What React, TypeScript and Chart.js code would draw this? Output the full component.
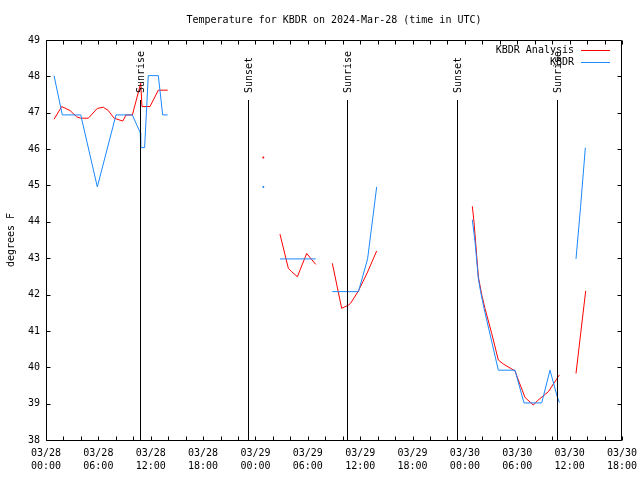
import React, { useEffect, useRef } from 'react';
import { Chart, registerables } from 'chart.js';

Chart.register(...registerables);

const TITLE = 'Temperature for KBDR on 2024-Mar-28 (time in UTC)';
const Y_TITLE = 'degrees F';
const FONT_FAMILY = '"DejaVu Sans Mono", "Liberation Mono", monospace';

// x tick labels (every 6 hours from 2024-03-28 00:00 UTC)
const tickDates = ['03/28', '03/28', '03/28', '03/28', '03/29', '03/29', '03/29', '03/29', '03/30', '03/30', '03/30', '03/30'];
const tickTimes = ['00:00', '06:00', '12:00', '18:00', '00:00', '06:00', '12:00', '18:00', '00:00', '06:00', '12:00', '18:00'];

const seriesNames = ['KBDR Analysis', 'KBDR'];
const seriesColors = ['#ff0000', '#1a88ff'];

// hours since 2024-03-28 00:00 UTC; null temperature = gap in data
const analysisHours = [
  0.92, 1.8, 2.75, 3.5, 3.97, 4.85, 5.88, 6.57, 7.14, 7.8, 8.8, 9.17, 9.9, 10.85, 11.0, 11.92, 12.87, 13.94,
  19,
  24.9,
  25.8,
  26.81, 27.77, 28.15, 28.8, 29.87, 30.9,
  31.8,
  32.81, 33.88, 34.65, 34.9, 35.8, 36.85, 37.89,
  43,
  48.85, 49.04, 49.54, 49.93, 50.3, 51.07, 51.83, 52.4, 53.74, 54.12, 54.89, 55.84, 56.3, 57.57, 58.44, 58.82,
  59.8,
  60.73, 61.3, 61.84,
];
const analysisTemps = [
  46.82, 47.17, 47.06, 46.89, 46.85, 46.85, 47.12, 47.15, 47.06, 46.85, 46.77, 46.94, 46.94, 47.81, 47.17, 47.17, 47.62, 47.62,
  null,
  45.77,
  null,
  43.66, 42.72, 42.63, 42.49, 43.13, 42.83,
  null,
  42.86, 41.62, 41.71, 41.76, 42.1, 42.62, 43.2,
  null,
  44.43, 44.0, 42.49, 41.99, 41.62, 40.93, 40.2, 40.09, 39.9, 39.65, 39.17, 38.96, 39.08, 39.33, 39.65, 39.79,
  null,
  39.83, 41.0, 42.1,
];

const obsHours = [
  0.92, 1.87, 3.98, 5.88, 8.02, 9.89, 10.8, 10.85, 11.3, 11.72, 12.87, 13.37, 13.94,
  19,
  24.9,
  25.8,
  26.81, 30.9,
  31.8,
  32.81, 35.8, 36.85, 37.89,
  43,
  48.85, 49.16, 49.54, 49.8, 50.19, 51.83, 53.74, 54.77, 56.8, 57.75, 58.58, 58.82,
  59.8,
  60.73, 61.25, 61.8,
];
const obsTemps = [
  48.02, 46.94, 46.94, 44.96, 46.94, 46.94, 46.45, 46.04, 46.04, 48.02, 48.02, 46.94, 46.94,
  null,
  44.96,
  null,
  42.98, 42.98,
  null,
  42.08, 42.08, 42.98, 44.96,
  null,
  44.06, 43.45, 42.44, 42.08, 41.62, 39.92, 39.92, 39.02, 39.02, 39.92, 39.19, 39.03,
  null,
  42.98, 44.4, 46.04,
];

const eventHours = [10.77, 23.2, 34.5, 47.1, 58.55];
const eventLabels = ['Sunrise', 'Sunset', 'Sunrise', 'Sunset', 'Sunrise'];

const X_MIN = 0;
const X_MAX = 66;
const Y_MIN = 38;
const Y_MAX = 49;
const MARKER_TOP = 47.35;

function toPoints(hours: number[], temps: (number | null)[]) {
  return hours.map((h, i) => ({ x: h, y: temps[i] }));
}

function isolatedRadius(temps: (number | null)[]) {
  return (ctx: any) => {
    const i = ctx.dataIndex;
    const prev = i > 0 ? temps[i - 1] : null;
    const next = i < temps.length - 1 ? temps[i + 1] : null;
    return temps[i] != null && prev == null && next == null ? 1 : 0;
  };
}

const overlayPlugin = {
  id: 'overlay',
  afterDatasetsDraw(chart: any) {
    const { ctx, chartArea: a, scales } = chart;
    const xs = scales.x;
    const ys = scales.y;
    ctx.save();
    ctx.strokeStyle = '#000';
    ctx.fillStyle = '#000';
    ctx.lineWidth = 1;
    ctx.font = `10px ${FONT_FAMILY}`;

    // sunrise / sunset markers
    const lineTop = ys.getPixelForValue(MARKER_TOP);
    eventHours.forEach((h, i) => {
      const px = Math.round(xs.getPixelForValue(h)) + 0.5;
      ctx.beginPath();
      ctx.moveTo(px, Math.round(lineTop));
      ctx.lineTo(px, a.bottom);
      ctx.stroke();
      ctx.save();
      ctx.translate(px + 0.5, Math.round(lineTop) - 7);
      ctx.rotate(-Math.PI / 2);
      ctx.textAlign = 'left';
      ctx.textBaseline = 'middle';
      ctx.fillText(eventLabels[i], 0, 0);
      ctx.restore();
    });

    // border
    const L = Math.round(a.left) + 0.5;
    const R = Math.round(a.right) - 0.5;
    const T = Math.round(a.top) + 0.5;
    const B = Math.round(a.bottom) + 0.5;
    ctx.beginPath();
    ctx.rect(L, T, R - L, B - T);
    ctx.stroke();

    // inward tick marks
    const TL = 4;
    ctx.beginPath();
    for (let h = X_MIN; h <= X_MAX; h += 2) {
      const px = Math.round(xs.getPixelForValue(h)) + 0.5;
      ctx.moveTo(px, B);
      ctx.lineTo(px, B - TL);
      ctx.moveTo(px, T);
      ctx.lineTo(px, T + TL);
    }
    for (let v = Y_MIN; v <= Y_MAX; v += 1) {
      const py = Math.round(ys.getPixelForValue(v)) + 0.5;
      ctx.moveTo(L, py);
      ctx.lineTo(L + TL, py);
      ctx.moveTo(R, py);
      ctx.lineTo(R - TL, py);
    }
    ctx.stroke();

    // legend
    ctx.textAlign = 'right';
    ctx.textBaseline = 'middle';
    seriesNames.forEach((name, i) => {
      const yy = a.top + 10 + i * 12;
      ctx.fillStyle = '#000';
      ctx.fillText(name, a.right - 48, yy + 0.5);
      ctx.strokeStyle = seriesColors[i];
      ctx.beginPath();
      ctx.moveTo(a.right - 41, yy + 0.5);
      ctx.lineTo(a.right - 12, yy + 0.5);
      ctx.stroke();
    });
    ctx.restore();
  },
};

export default function App() {
  const ref = useRef<HTMLCanvasElement | null>(null);

  useEffect(() => {
    if (!ref.current) return;
    Chart.defaults.color = '#000';
    Chart.defaults.font.family = FONT_FAMILY;
    Chart.defaults.font.size = 10;

    const chart = new Chart(ref.current, {
      type: 'line',
      data: {
        datasets: [
          {
            label: seriesNames[0],
            data: toPoints(analysisHours, analysisTemps) as any,
            borderColor: seriesColors[0],
            backgroundColor: seriesColors[0],
            borderWidth: 1,
            pointRadius: isolatedRadius(analysisTemps),
            pointBorderWidth: 0,
            pointHoverRadius: 0,
            spanGaps: false,
            tension: 0,
            order: 2,
          },
          {
            label: seriesNames[1],
            data: toPoints(obsHours, obsTemps) as any,
            borderColor: seriesColors[1],
            backgroundColor: seriesColors[1],
            borderWidth: 1,
            pointRadius: isolatedRadius(obsTemps),
            pointBorderWidth: 0,
            pointHoverRadius: 0,
            spanGaps: false,
            tension: 0,
            order: 1,
          },
        ],
      },
      options: {
        responsive: false,
        animation: false,
        devicePixelRatio: 1,
        layout: { padding: { left: 0, right: 18, top: 0, bottom: 0 } },
        plugins: {
          legend: { display: false },
          tooltip: { enabled: false },
          title: {
            display: true,
            text: TITLE,
            fullSize: false,
            color: '#000',
            font: { family: FONT_FAMILY, size: 10, weight: 'normal', lineHeight: 1.2 },
            padding: { top: 14, bottom: 14 },
          },
        },
        scales: {
          x: {
            type: 'linear',
            min: X_MIN,
            max: X_MAX,
            grid: { display: false, drawTicks: false },
            border: { display: false },
            ticks: {
              stepSize: 6,
              autoSkip: false,
              maxRotation: 0,
              minRotation: 0,
              padding: 7,
              color: '#000',
              font: { family: FONT_FAMILY, size: 10, lineHeight: 1.3 },
              callback: (value: any) => {
                const idx = Math.round(Number(value) / 6);
                return [tickDates[idx], tickTimes[idx]];
              },
            },
            afterFit: (s: any) => {
              s.height = 40;
              s.paddingLeft = 0;
              s.paddingRight = 0;
            },
          },
          y: {
            type: 'linear',
            min: Y_MIN,
            max: Y_MAX,
            grid: { display: false, drawTicks: false },
            border: { display: false },
            ticks: {
              stepSize: 1,
              padding: 6,
              color: '#000',
              font: { family: FONT_FAMILY, size: 10 },
            },
            title: {
              display: true,
              text: Y_TITLE,
              color: '#000',
              font: { family: FONT_FAMILY, size: 10, lineHeight: 1.2 },
              padding: { top: 5, bottom: 0 },
            },
            afterFit: (s: any) => {
              s.width = 46;
              s.paddingTop = 0;
              s.paddingBottom = 0;
            },
          },
        },
      },
      plugins: [overlayPlugin],
    });
    return () => chart.destroy();
  }, []);

  return (
    <div style={{ position: 'fixed', left: 0, top: 0, width: 640, height: 480, background: '#fff' }}>
      <canvas ref={ref} width={640} height={480} style={{ display: 'block', width: 640, height: 480 }} />
    </div>
  );
}
